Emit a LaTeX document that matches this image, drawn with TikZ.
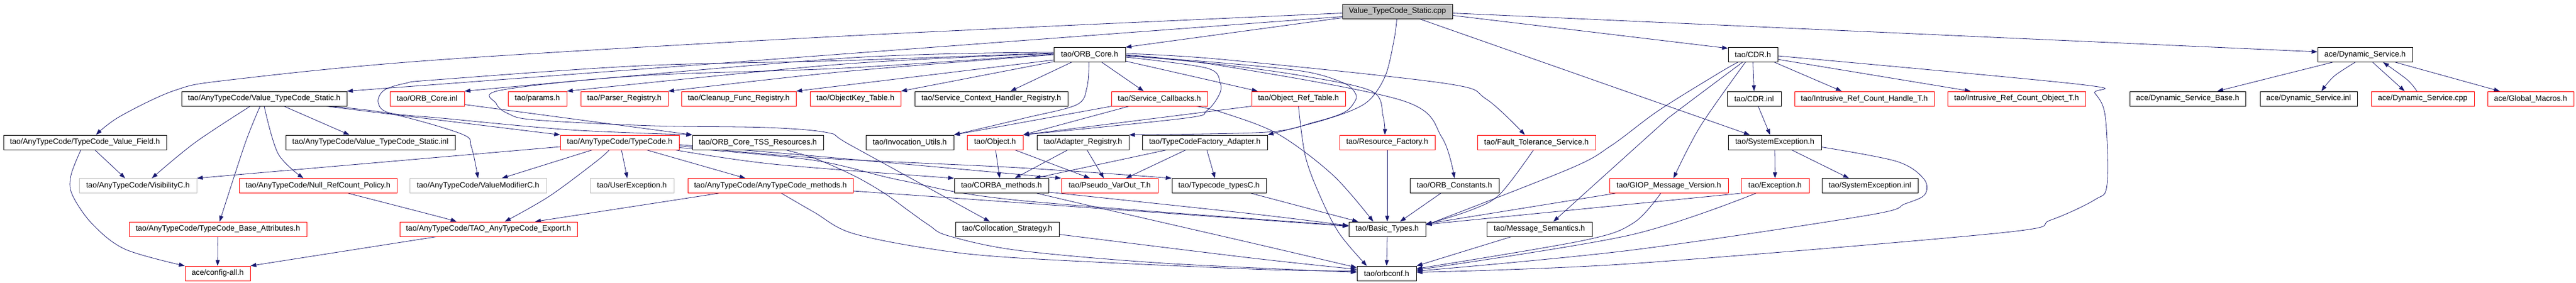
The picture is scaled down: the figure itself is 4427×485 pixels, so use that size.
\documentclass[tikz,border=0pt]{standalone}
\usepackage{fontspec}
\setmainfont{Liberation Sans}
\usetikzlibrary{arrows.meta}
\definecolor{edgeblue}{RGB}{25,25,112}
\definecolor{boxgray}{RGB}{191,191,191}
\definecolor{cppgray}{RGB}{191,191,191}
\pgfdeclarelayer{bg}
\pgfsetlayers{bg,main}
\tikzset{
  base/.style={rectangle, inner sep=0pt, minimum height=25pt, line width=0.9pt, fill=white, font=\fontsize{13.3}{16}\selectfont, text=black},
  nb/.style={base, draw=black},
  nr/.style={base, draw=red},
  ng/.style={base, draw=boxgray},
  edg/.style={draw=edgeblue, line width=0.8pt, -{Triangle[length=10pt,width=7pt]}},
  sm/.style={smooth, tension=0.55}
}
\begin{document}
\begin{tikzpicture}[x=1pt,y=-1pt]
\path[use as bounding box] (0,0) rectangle (4427,485);
% row 0
\node[nb, fill=cppgray, minimum width=189pt] (cpp) at (2401.5,19.5) {Value\_TypeCode\_Static.cpp};
% row 1
\node[nb, minimum width=123pt] (orbcore) at (1872.5,94) {tao/ORB\_Core.h};
\node[nb, minimum width=85pt] (cdr) at (3012.5,94) {tao/CDR.h};
\node[nb, minimum width=163pt] (dsh) at (4064.5,94) {ace/Dynamic\_Service.h};
% row 2
\node[nb, minimum width=284pt] (vtsh) at (454,169.5) {tao/AnyTypeCode/Value\_TypeCode\_Static.h};
\node[nr, minimum width=128pt] (orbinl) at (734,169.5) {tao/ORB\_Core.inl};
\node[nr, minimum width=101pt] (params) at (923.5,169.5) {tao/params.h};
\node[nr, minimum width=150pt] (parser) at (1073,169.5) {tao/Parser\_Registry.h};
\node[nr, minimum width=197pt] (cleanup) at (1269.5,169.5) {tao/Cleanup\_Func\_Registry.h};
\node[nr, minimum width=156pt] (objkey) at (1470,169.5) {tao/ObjectKey\_Table.h};
\node[nb, minimum width=263pt] (sch) at (1703.5,169.5) {tao/Service\_Context\_Handler\_Registry.h};
\node[nr, minimum width=165pt] (scb) at (1992.5,169.5) {tao/Service\_Callbacks.h};
\node[nr, minimum width=161pt] (ort) at (2231.5,169.5) {tao/Object\_Ref\_Table.h};
\node[nb, minimum width=93pt] (cdrinl) at (3014.5,169.5) {tao/CDR.inl};
\node[nr, minimum width=240pt] (irch) at (3204,169.5) {tao/Intrusive\_Ref\_Count\_Handle\_T.h};
\node[nr, minimum width=237pt] (irco) at (3465.5,169.5) {tao/Intrusive\_Ref\_Count\_Object\_T.h};
\node[nb, minimum width=199pt] (dsb) at (3759.5,169.5) {ace/Dynamic\_Service\_Base.h};
\node[nb, minimum width=167pt] (dsi) at (3967.5,169.5) {ace/Dynamic\_Service.inl};
\node[nr, minimum width=177pt] (dsc) at (4163.5,169.5) {ace/Dynamic\_Service.cpp};
\node[nr, minimum width=148pt] (gm) at (4349,169.5) {ace/Global\_Macros.h};
% row 3
\node[nb, minimum width=280pt] (tvf) at (146,244.5) {tao/AnyTypeCode/TypeCode\_Value\_Field.h};
\node[nb, minimum width=291pt] (vtsinl) at (636.5,244.5) {tao/AnyTypeCode/Value\_TypeCode\_Static.inl};
\node[nr, minimum width=204pt] (tc) at (1065,244.5) {tao/AnyTypeCode/TypeCode.h};
\node[nb, minimum width=225pt] (tss) at (1302.5,244.5) {tao/ORB\_Core\_TSS\_Resources.h};
\node[nb, minimum width=151pt] (inv) at (1563.5,244.5) {tao/Invocation\_Utils.h};
\node[nr, minimum width=96pt] (obj) at (1710,244.5) {tao/Object.h};
\node[nb, minimum width=158pt] (adr) at (1861,244.5) {tao/Adapter\_Registry.h};
\node[nb, minimum width=215pt] (tcfa) at (2070.5,244.5) {tao/TypeCodeFactory\_Adapter.h};
\node[nr, minimum width=164pt] (rf) at (2384,244.5) {tao/Resource\_Factory.h};
\node[nr, minimum width=203pt] (fts) at (2640.5,244.5) {tao/Fault\_Tolerance\_Service.h};
\node[nb, minimum width=160pt] (se) at (3050,244.5) {tao/SystemException.h};
% row 4
\node[ng, minimum width=202pt] (vis) at (237,319) {tao/AnyTypeCode/VisibilityC.h};
\node[nr, minimum width=271pt] (nrp) at (546.5,319) {tao/AnyTypeCode/Null\_RefCount\_Policy.h};
\node[ng, minimum width=235pt] (vm) at (821.5,319) {tao/AnyTypeCode/ValueModifierC.h};
\node[ng, minimum width=144pt] (ue) at (1086,319) {tao/UserException.h};
\node[nr, minimum width=284pt] (atm) at (1324,319) {tao/AnyTypeCode/AnyTypeCode\_methods.h};
\node[nb, minimum width=162pt] (cm) at (1721,319) {tao/CORBA\_methods.h};
\node[nr, minimum width=166pt] (pvo) at (1907,319) {tao/Pseudo\_VarOut\_T.h};
\node[nb, minimum width=162pt] (tct) at (2095,319) {tao/Typecode\_typesC.h};
\node[nb, minimum width=153pt] (oc) at (2499.5,319) {tao/ORB\_Constants.h};
\node[nr, minimum width=204pt] (giop) at (2868,319) {tao/GIOP\_Message\_Version.h};
\node[nr, minimum width=117pt] (exc) at (3050.5,319) {tao/Exception.h};
\node[nb, minimum width=165pt] (sei) at (3213.5,319) {tao/SystemException.inl};
% row 5
\node[nr, minimum width=305pt] (tba) at (374.5,393.5) {tao/AnyTypeCode/TypeCode\_Base\_Attributes.h};
\node[nr, minimum width=305pt] (tae) at (839.5,393.5) {tao/AnyTypeCode/TAO\_AnyTypeCode\_Export.h};
\node[nb, minimum width=178pt] (cs) at (1731,393.5) {tao/Collocation\_Strategy.h};
\node[nb, minimum width=132pt] (bt) at (2384,393.5) {tao/Basic\_Types.h};
\node[nb, minimum width=181pt] (ms) at (2645.5,393.5) {tao/Message\_Semantics.h};
% row 6
\node[nr, minimum width=112pt] (cfg) at (374,469.5) {ace/config-all.h};
\node[nb, minimum width=102pt] (orbconf) at (2383,469.5) {tao/orbconf.h};

\begin{pgfonlayer}{bg}
% from the .cpp
\draw[edg] ([yshift=-9pt]cpp.west) -- (vtsh.north east);
\draw[edg] plot[sm] coordinates {([yshift=-3pt]cpp.west) (1450,62) (750,103) (397,137) (301,155) (206,200) ([xshift=19pt]tvf.north)};
\draw[edg] ([yshift=-11pt]cpp.west) -- (orbcore.north east);
\draw[edg] ([yshift=-7pt]cpp.east) -- ([yshift=11pt]cdr.west);
\draw[edg] ([yshift=-3pt]cpp.east) -- ([yshift=5pt]dsh.west);
\draw[edg] plot[sm] coordinates {([xshift=-1pt]cpp.south) (2396,67) (2382,127) (2358,167) (2329,187) (2272,207) (tcfa.north east)};
\draw[edg] ([xshift=38pt]cpp.south) -- ([xshift=-43pt]se.north);
% ORB_Core.h, left side
\draw[edg] plot[sm] coordinates {([yshift=4pt]orbcore.west) (1450,100) (orbinl.north east)};
\draw[edg] plot[sm] coordinates {([yshift=2pt]orbcore.west) (1450,110) (params.north east)};
\draw[edg] plot[sm] coordinates {(orbcore.west) (1450,123) (parser.north east)};
\draw[edg] ([yshift=-9pt]orbcore.west) -- (cleanup.north east);
\draw[edg] ([yshift=-12pt]orbcore.west) -- (objkey.north east);
\draw[edg] plot[sm] coordinates {([yshift=3pt]orbcore.west) (1450,104) (1100,113) (750,137) (697,143) (660,155) (650,176) (670,194) (760,203) (980,223) (tss.north west)};
\draw[edg] plot[sm] coordinates {([yshift=1pt]orbcore.west) (1450,117) (1100,130) (860,155) (853,178) (873,195) (920,206) (1121,216) (1317,219) (1423,228) (1463,250) ([xshift=-30pt]cs.north)};
\draw[edg] ([xshift=-31pt]orbcore.south) -- ([xshift=33pt]sch.north);
\draw[edg] ([xshift=21pt]orbcore.south) -- ([xshift=-27pt]scb.north);
\draw[edg] plot[sm] coordinates {([xshift=-1pt]orbcore.south) (1868,150) (1850,180) (1760,203) (inv.north east)};
% ORB_Core.h, right side
\draw[edg] plot[sm] coordinates {([yshift=-4pt]orbcore.east) (2074,117) (2097,143) (2095,163) (2074,190) (2036,203) (obj.north east)};
\draw[edg] ([yshift=-11pt]orbcore.east) -- ([xshift=-70pt]ort.north);
\draw[edg] plot[sm] coordinates {([yshift=-2pt]orbcore.east) (2100,108) (2243,123) (2310,143) (2329,160) (2329,173) (2310,193) (2258,210) (2176,227) (adr.north east)};
\draw[edg] plot[sm] coordinates {([yshift=-1pt]orbcore.east) (2100,111) (2243,131) (2358,157) (2377,200) ([xshift=-4pt]rf.north)};
\draw[edg] plot[sm] coordinates {(orbcore.east) (2100,113) (2411,173) (2478,236) (oc.north)};
\draw[edg] plot[sm] coordinates {([yshift=2pt]orbcore.east) (2100,102) (2482,143) (2554,170) ([xshift=-20pt]fts.north)};
% Service_Callbacks, Object_Ref_Table
\draw[edg] ([xshift=-82pt]scb.south) -- (inv.north east);
\draw[edg] ([xshift=-52pt]scb.south) -- (obj.north east);
\draw[edg] plot[sm] coordinates {([xshift=63pt]scb.south) (2100,193) (2196,230) (2291,301) ([xshift=-24pt]bt.north)};
\draw[edg] (ort.south west) -- (obj.north east);
\draw[edg] plot[sm] coordinates {(ort.south) (2243,267) (2267,333) (2301,400) ([xshift=-34pt]orbconf.north)};
% row 3 -> row 4 (middle)
\draw[edg] ([xshift=-65.5pt]tcfa.south) -- ([xshift=57pt]cm.north);
\draw[edg] ([xshift=-32.5pt]tcfa.south) -- ([xshift=28pt]pvo.north);
\draw[edg] ([xshift=3.5pt]tcfa.south) -- ([xshift=-7pt]tct.north);
\draw[edg] ([xshift=1pt]obj.south) -- ([xshift=-3pt]cm.north);
\draw[edg] ([xshift=34pt]obj.south) -- ([xshift=-34pt]pvo.north);
\draw[edg] ([xshift=-26pt]adr.south) -- ([xshift=23pt]cm.north);
\draw[edg] ([xshift=7pt]adr.south) -- ([xshift=-10pt]pvo.north);
% TypeCode.h
\draw[edg] ([yshift=-7.5pt]tc.west) -- (vis.north east);
\draw[edg] ([xshift=-47pt]tc.south) -- ([xshift=41pt]vm.north);
\draw[edg] plot[sm] coordinates {([xshift=-18pt]tc.south) (1025,277) (944,337) ([xshift=28pt]tae.north)};
\draw[edg] ([xshift=3pt]tc.south) -- ([xshift=-8pt]ue.north);
\draw[edg] ([xshift=46pt]tc.south) -- ([xshift=-43pt]atm.north);
\draw[edg] plot[sm] coordinates {([xshift=95pt]tc.south) (1330,282) (cm.north west)};
\draw[edg] plot[sm] coordinates {([yshift=-4pt]tc.east) (1400,268) (pvo.north west)};
\draw[edg] plot[sm] coordinates {([yshift=-6pt]tc.east) (1400,271) (1750,288) (tct.north west)};
\draw[edg] plot[sm] coordinates {([yshift=-9pt]tc.east) (1397,275) (1550,310) (1750,344) ([yshift=6pt]bt.west)};
% Value_TypeCode_Static.h
\draw[edg] plot[sm] coordinates {([xshift=-24pt]vtsh.south) (335,245) ([xshift=24pt]vis.north)};
\draw[edg] plot[sm] coordinates {([xshift=-7pt]vtsh.south) (421,247) ([xshift=3pt]tba.north)};
\draw[edg] plot[sm] coordinates {(vtsh.south) (478,264) ([xshift=-25pt]nrp.north)};
\draw[edg] ([xshift=34pt]vtsh.south) -- ([xshift=-36pt]vtsinl.north);
\draw[edg] ([xshift=106pt]vtsh.south) -- (tc.north west);
\draw[edg] plot[sm] coordinates {([xshift=110pt]vtsh.south) (670,195) (793,230) (810,252) (vm.north)};
% TypeCode_Value_Field.h
\draw[edg] ([xshift=17pt]tvf.south) -- ([xshift=-22pt]vis.north);
\draw[edg] plot[sm] coordinates {([xshift=-7pt]tvf.south) (122,301) (124,334) (158,384) (215,428) (cfg.north west)};
% lower left
\draw[edg] plot[sm] coordinates {([xshift=52pt]nrp.south) (750,371) ([xshift=-55pt]tae.north)};
\draw[edg] (tba.south) -- (cfg.north);
\draw[edg] ([xshift=-89pt]atm.south) -- ([xshift=80pt]tae.north);
\draw[edg] ([xshift=-89pt]tae.south) -- (cfg.north east);
\draw[edg] ([yshift=-10pt]orbinl.east) -- (tss.north west);
% to Basic_Types and orbconf
\draw[edg] plot[sm] coordinates {([yshift=-9pt]atm.east) (1750,348) ([yshift=5pt]bt.west)};
\draw[edg] plot[sm] coordinates {([xshift=19pt]atm.south) (1400,365) (1463,400) (1597,427) (1750,443) (2150,462) ([yshift=4pt]orbconf.west)};
\draw[edg] plot[sm] coordinates {([yshift=-11pt]cm.east) (2150,367) ([yshift=6pt]bt.west)};
\draw[edg] plot[sm] coordinates {([xshift=61pt]cm.south) (1902,360) (2150,417) ([yshift=10pt]orbconf.west)};
\draw[edg] plot[sm] coordinates {([yshift=-9pt]cs.east) (2150,443) ([yshift=7pt]orbconf.west)};
\draw[edg] plot[sm] coordinates {([xshift=48pt]tss.south) (1403,273) (1470,303) (1520,332) (1563,363) (1597,387) (1630,405) (1750,430) (2000,452) ([yshift=2pt]orbconf.west)};
\draw[edg] ([xshift=55pt]tct.south) -- ([xshift=-50pt]bt.north);
\draw[edg] (rf.south) -- (bt.north);
\draw[edg] ([xshift=-23.5pt]oc.south) -- ([xshift=22pt]bt.north);
\draw[edg] plot[sm] coordinates {([xshift=-5pt]fts.south) (2578,333) (2530,360) ([yshift=8pt]bt.east)};
% CDR.h
\draw[edg] plot[sm] coordinates {([xshift=-26pt]cdr.south) (2953,126) (2850,190) (2769,250) (2697,290) ([yshift=7pt]bt.east)};
\draw[edg] plot[sm] coordinates {([xshift=-18pt]cdr.south) (2877,195) (2850,218) ([xshift=24pt]ms.north)};
\draw[edg] plot[sm] coordinates {([xshift=-13pt]cdr.south) (2922,217) ([xshift=8pt]giop.north)};
\draw[edg] (cdr.south) -- (cdrinl.north);
\draw[edg] ([xshift=37pt]cdr.south) -- ([xshift=-39pt]irch.north);
\draw[edg] ([yshift=-8pt]cdr.east) -- ([xshift=-79pt]irco.north);
\draw[edg] plot[sm] coordinates {([yshift=-2pt]cdr.east) (3575,145) (3600,160) (3618,200) (3621,317) (3600,343) (3524,378) (3437,400) (2800,453) ([yshift=2pt]orbconf.east)};
% SystemException, Exception, GIOP, Message_Semantics
\draw[edg] ([xshift=7pt]cdrinl.south) -- ([xshift=-8pt]se.north);
\draw[edg] (se.south) -- (exc.north);
\draw[edg] ([xshift=29pt]se.south) -- ([xshift=-36pt]sei.north);
\draw[edg] plot[sm] coordinates {([yshift=-8pt]se.east) (3259,277) (3306,307) (3308,334) (3274,350) (3208,370) (2800,430) ([yshift=4pt]orbconf.east)};
\draw[edg] (exc.south west) -- ([yshift=8pt]bt.east);
\draw[edg] plot[sm] coordinates {([xshift=-33pt]exc.south) (2800,404) ([yshift=6pt]orbconf.east)};
\draw[edg] ([xshift=-92pt]giop.south) -- ([yshift=9pt]bt.east);
\draw[edg] plot[sm] coordinates {([xshift=-14pt]giop.south) (2807,383) (2721,413) ([yshift=8pt]orbconf.east)};
\draw[edg] ([xshift=-48pt]ms.south) -- (orbconf.north east);
\draw[edg] (bt.south) -- (orbconf.north);
% Dynamic_Service
\draw[edg] ([xshift=-56pt]dsh.south) -- ([xshift=51pt]dsb.north);
\draw[edg] plot[sm] coordinates {([xshift=-17pt]dsh.south) (4011,131) ([xshift=22pt]dsi.north)};
\draw[edg] ([xshift=13pt]dsh.south) -- ([xshift=-31pt]dsc.north);
\draw[edg] plot[sm] coordinates {([xshift=-10pt]dsc.north) (4137,137) ([xshift=31pt]dsh.south)};
\draw[edg] ([xshift=52pt]dsh.south) -- ([xshift=-53pt]gm.north);
\end{pgfonlayer}
\end{tikzpicture}
\end{document}
